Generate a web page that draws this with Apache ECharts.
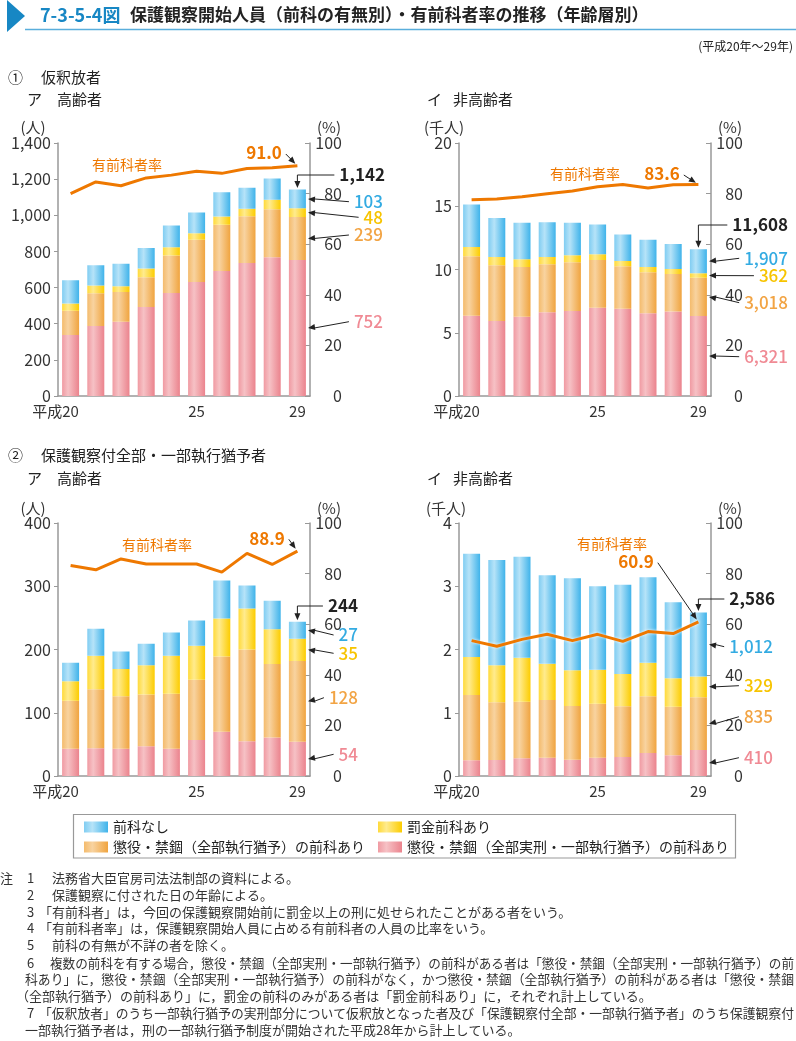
<!DOCTYPE html>
<html><head><meta charset="utf-8">
<script src="https://cdn.jsdelivr.net/npm/echarts@6.0.0/dist/echarts.min.js"></script>
<style>html,body{margin:0;padding:0;background:#fff}#c{width:796px;height:1041px}</style>
</head><body><div id="c"></div>
<script>
// ---- data ----
const years = ['平成20','21','22','23','24','25','26','27','28','29'];
const xTickLabels = ['平成20','','','','','25','','','','29'];
const seriesNames = ['懲役・禁錮（全部実刑・一部執行猶予）の前科あり','懲役・禁錮（全部執行猶予）の前科あり','罰金前科あり','前科なし'];
const rateName = '有前科者率';

// ① 仮釈放者 ア 高齢者 (人)
const p1Prison = [338,387,411,492,570,631,692,736,768,752];
const p1Susp   = [134,181,164,165,207,233,255,259,266,239];
const p1Fine   = [40,44,33,49,46,37,46,41,52,48];
const p1None   = [128,111,124,113,120,114,135,116,118,103];
const p1Rate   = [80.0,84.6,83.1,86.2,87.3,88.8,88.0,89.9,90.2,91.0];
const p1Ticks  = [0,200,400,600,800,1000,1200,1400];

// ① 仮釈放者 イ 非高齢者 (人; axis in 千人)
const p2Prison = [6340,5920,6260,6630,6710,6970,6900,6550,6680,6321];
const p2Susp   = [4700,4410,3940,3780,3860,3780,3350,3230,2960,3018];
const p2Fine   = [740,660,610,580,550,450,420,420,400,362];
const p2None   = [3360,3090,2880,2750,2570,2350,2090,2160,1980,1907];
const p2Rate   = [77.6,77.9,78.8,79.9,81.0,82.7,83.6,82.2,83.5,83.6];
const p2Ticks  = [0,5,10,15,20];

// ② 保護観察付全部・一部執行猶予者 ア 高齢者 (人)
const p3Prison = [43,44,43,47,43,57,70,55,61,54];
const p3Susp   = [76,93,83,82,87,95,119,145,116,128];
const p3Fine   = [31,53,43,46,60,54,60,65,55,35];
const p3None   = [29,43,28,34,37,40,60,36,45,27];
const p3Rate   = [83.2,81.5,85.8,83.8,83.8,83.8,80.6,88.0,83.6,88.9];
const p3Ticks  = [0,100,200,300,400];

// ② イ 非高齢者 (人; axis in 千人)
const p4Prison = [248,253,279,290,258,290,300,364,327,410];
const p4Susp   = [1033,912,896,912,849,854,801,896,769,835];
const p4Fine   = [600,585,696,574,564,537,512,532,448,329];
const p4None   = [1634,1665,1597,1397,1454,1318,1412,1349,1202,1012];
const p4Rate   = [53.5,51.3,54.0,56.0,53.5,56.0,53.2,57.1,56.3,60.9];
const p4Ticks  = [0,1,2,3,4];

const rateTicks = [0,20,40,60,80,100];

// ---- layout / style ----
const FONT = '"Noto Sans CJK JP","Noto Sans",sans-serif';
const GW = 252, GH = 253;
const panels = [
  {prison:p1Prison, susp:p1Susp, fine:p1Fine, none:p1None, rate:p1Rate, ticks:p1Ticks, div:1, left:58, top:143, unit:'(人)', unitX:33, unitY:127,
   rateText:[127,165], rateLbl:[264,153], totalLbl:[385,175], segX:383, segY:[201.7,217.3,235,321.7]},
  {prison:p2Prison, susp:p2Susp, fine:p2Fine, none:p2None, rate:p2Rate, ticks:p2Ticks, div:1000, left:459, top:143, unit:'(千人)', unitX:444, unitY:127,
   rateText:[585,174], rateLbl:[662,174], totalLbl:[788,225], segX:788, segY:[258.3,275.7,302.7,356.7]},
  {prison:p3Prison, susp:p3Susp, fine:p3Fine, none:p3None, rate:p3Rate, ticks:p3Ticks, div:1, left:58, top:523, unit:'(人)', unitX:33, unitY:508,
   rateText:[157,545], rateLbl:[267,538.3], totalLbl:[358,606], segX:358, segY:[635,653.3,697.7,754.3]},
  {prison:p4Prison, susp:p4Susp, fine:p4Fine, none:p4None, rate:p4Rate, ticks:p4Ticks, div:1000, left:459, top:523, unit:'(千人)', unitX:446, unitY:508,
   rateText:[612,543.3], rateLbl:[636,561.7], totalLbl:[775,599], segX:773, segY:[646.7,685.7,716.7,757.7]}
];

function grad(c0,c1,c2){
  return new echarts.graphic.LinearGradient(0,0,1,0,[{offset:0,color:c0},{offset:0.35,color:c1},{offset:1,color:c2}]);
}
const barFills = [
  grad('#f09aa2','#f6c1c5','#eb838d'),
  grad('#f4bb6c','#f8d3a0','#f0a43f'),
  grad('#ffda3a','#ffeb8e','#fccc00'),
  grad('#80cdf2','#b6e3f8','#3fb3ea')
];
const segLabelColors = ['#f08a94','#f2a444','#f7c400','#33abe2']; // pink, orange, yellow, blue
const AX = '#999';
function fmt(n){ return String(n).replace(/\B(?=(\d{3})+(?!\d))/g, ','); }

const grid=[], xAxis=[], yAxis=[], series=[];
panels.forEach((p,i)=>{
  grid.push({left:p.left, top:p.top, width:GW, height:GH});
  xAxis.push({
    gridIndex:i, type:'category', data:years,
    axisLine:{lineStyle:{color:AX,width:1.5}}, axisTick:{show:false},
    axisLabel:{interval:0, margin:8, fontSize:15, color:'#333', fontFamily:FONT,
      formatter:(v,idx)=>{ const t = xTickLabels[idx]; if(!t) return ''; if(t.startsWith('平成')) return '{h|平成}'+t.slice(2)+'{s|}'; return t; },
      rich:{h:{fontSize:15,color:'#333',fontFamily:FONT}, s:{width:30}}}
  });
  const tk = p.ticks;
  yAxis.push({
    gridIndex:i, type:'value', position:'left', min:0, max:tk[tk.length-1]*p.div, interval:(tk[1]-tk[0])*p.div,
    axisLine:{show:true,lineStyle:{color:AX,width:1.5}}, axisTick:{show:true,length:4,lineStyle:{color:AX}},
    splitLine:{show:false},
    axisLabel:{margin:7, fontSize:16, color:'#333', fontFamily:FONT, formatter:v=>fmt(v/p.div)}
  });
  yAxis.push({
    gridIndex:i, type:'value', position:'right', min:0, max:rateTicks[rateTicks.length-1], interval:rateTicks[1]-rateTicks[0],
    axisLine:{show:true,lineStyle:{color:AX,width:1.5}}, axisTick:{show:true,inside:true,length:5,lineStyle:{color:AX}},
    splitLine:{show:false},
    axisLabel:{margin:32, align:'right', fontSize:16, color:'#333', fontFamily:FONT}
  });
  const datas = [p.prison,p.susp,p.fine,p.none];
  datas.forEach((d,k)=>{
    series.push({type:'bar', name:seriesNames[k], xAxisIndex:i, yAxisIndex:2*i, stack:'s'+i, barWidth:17,
      data:d, itemStyle:{color:barFills[k]}, emphasis:{disabled:true}});
  });
  series.push({type:'line', name:rateName, xAxisIndex:i, yAxisIndex:2*i+1, data:p.rate, symbol:'none', z:5,
    lineStyle:{color:'#ee7800', width:3, shadowColor:'rgba(255,255,255,0.95)', shadowBlur:3}, emphasis:{disabled:true}});
});

const legendCommon = {orient:'vertical', itemWidth:24, itemHeight:11, itemGap:4, icon:'rect', selectedMode:false, padding:0,
  textStyle:{fontSize:14, color:'#222', fontFamily:FONT, lineHeight:16}};
const option = {
  animation:false, backgroundColor:'#fff',
  grid, xAxis, yAxis, series,
  legend:[
    Object.assign({left:84, top:819, data:['前科なし','懲役・禁錮（全部執行猶予）の前科あり']}, legendCommon),
    Object.assign({left:378, top:819, data:['罰金前科あり','懲役・禁錮（全部実刑・一部執行猶予）の前科あり']}, legendCommon)
  ]
};
const chart = echarts.init(document.getElementById('c'));
chart.setOption(option);

// ---- annotations ----
const cv = document.createElement('canvas').getContext('2d');
function tw(text, size, weight){ cv.font = (weight||'normal')+' '+size+'px '+FONT; return cv.measureText(text).width; }
function txt(x,y,text,size,color,opt){
  opt = opt||{};
  const el = {type:'text', x:x, y:y, silent:true, z:100, style:{text:text, fill:color, font:(opt.weight||'normal')+' '+size+'px '+FONT,
    textAlign:opt.align||'left', align:opt.align||'left', textVerticalAlign:'middle', verticalAlign:'middle'}};
  if (opt.scaleX) el.scaleX = opt.scaleX;
  return el;
}
function head(x1,y1,x2,y2){
  const dx=x2-x1, dy=y2-y1, L=Math.hypot(dx,dy), ux=dx/L, uy=dy/L, len=7, w=3;
  const bx=x2-ux*len, by=y2-uy*len;
  return {type:'polygon', silent:true, z:100, shape:{points:[[x2,y2],[bx-uy*w,by+ux*w],[bx+uy*w,by-ux*w]]}, style:{fill:'#222'}};
}
function seg(x1,y1,x2,y2){
  return {type:'line', silent:true, z:100, shape:{x1,y1,x2,y2}, style:{stroke:'#222', lineWidth:1}};
}
const g = [];
// title
g.push({type:'polygon', silent:true, shape:{points:[[7,0],[25,16],[7,32]]}, style:{fill:'#1787c4'}});
g.push(txt(40,15,'7-3-5-4図',18,'#1787c4',{weight:'bold'}));
g.push(txt(130,15,'保護観察開始人員（前科の有無別）・有前科者率の推移（年齢層別）',17,'#222',{weight:'bold'}));
g.push({type:'line', silent:true, shape:{x1:25,y1:29.5,x2:796,y2:29.5}, style:{stroke:'#5aaedc', lineWidth:1.5}});
g.push(txt(793,46,'(平成20年～29年)',12,'#222',{align:'right'}));
// section headings
g.push(txt(8,77,'①',15,'#222')); g.push(txt(41,77,'仮釈放者',15,'#222'));
g.push(txt(27,99,'ア',15,'#222')); g.push(txt(57,99,'高齢者',15,'#222'));
g.push(txt(427,99,'イ',15,'#222')); g.push(txt(453,99,'非高齢者',15,'#222'));
g.push(txt(8,455,'②',15,'#222')); g.push(txt(41,455,'保護観察付全部・一部執行猶予者',15,'#222'));
g.push(txt(27,478,'ア',15,'#222')); g.push(txt(57,478,'高齢者',15,'#222'));
g.push(txt(427,478,'イ',15,'#222')); g.push(txt(453,478,'非高齢者',15,'#222'));

panels.forEach((p,i)=>{
  const right = p.left + GW;
  g.push(txt(p.unitX,p.unitY,p.unit,15,'#333',{align:'center'}));
  g.push(txt(right+19,p.unitY,'(%)',15,'#333',{align:'center'}));
  g.push(txt(p.rateText[0],p.rateText[1],rateName,14,'#ee7800',{align:'center'}));
  // rate label & arrow
  const last = p.rate.length-1;
  const rl = p.rate[last].toFixed(1);
  g.push(txt(p.rateLbl[0],p.rateLbl[1],rl,17,'#ee7800',{align:'center',weight:'bold'}));
  const rp = chart.convertToPixel({xAxisIndex:i, yAxisIndex:2*i+1},[last,p.rate[last]]);
  const sx = p.rateLbl[0]+tw(rl,17,'bold')/2+4, sy = p.rateLbl[1]+1;
  const dx = rp[0]-sx, dy = rp[1]-sy, L = Math.hypot(dx,dy);
  const ex = rp[0]-dx/L*3, ey = rp[1]-dy/L*3;
  g.push(seg(sx,sy,ex-dx/L*5,ey-dy/L*5)); g.push(head(sx,sy,ex,ey));
  // total
  const vals = [p.prison[last],p.susp[last],p.fine[last],p.none[last]];
  const total = vals.reduce((a,b)=>a+b,0);
  const tt = fmt(total);
  g.push(txt(p.totalLbl[0],p.totalLbl[1],tt,17,'#222',{align:'right',weight:'bold'}));
  const tp = chart.convertToPixel({xAxisIndex:i, yAxisIndex:2*i},[last,total]);
  const tsx = p.totalLbl[0]-tw(tt,17,'bold')-5;
  g.push({type:'polyline', silent:true, z:100, shape:{points:[[tsx,p.totalLbl[1]],[tp[0],p.totalLbl[1]],[tp[0],tp[1]-7]]}, style:{stroke:'#222',lineWidth:1,fill:null}});
  g.push(head(tp[0],p.totalLbl[1],tp[0],tp[1]-1.5));
  // segment labels (blue, yellow, orange, pink order from top)
  let cum = 0; const mids = [];
  vals.forEach(v=>{ mids.push(cum+v/2); cum+=v; });
  [3,2,1,0].forEach((k,j)=>{
    const t = fmt(vals[k]);
    const ly = p.segY[j];
    g.push(txt(p.segX,ly,t,17,segLabelColors[k],{align:'right',weight:'500'}));
    const my = chart.convertToPixel({xAxisIndex:i, yAxisIndex:2*i},[last,mids[k]])[1];
    const lx = p.segX - tw(t,17,'500') - 5;
    const ex2 = right-2;
    g.push(seg(lx,ly,ex2+6,my)); g.push(head(lx,ly,ex2,my));
  });
});

// legend box
g.push({type:'rect', silent:true, shape:{x:73.5,y:814.5,width:662,height:43.5}, style:{fill:null, stroke:'#999', lineWidth:1.2}});

// notes (entries with a 4th element are fitted to that right edge)
const NC = '#333', NS = 13;
const notes = [
  [0,878.3,'注'],[27,878.3,'1'],[52,878.3,'法務省大臣官房司法法制部の資料による。'],
  [27,895,'2'],[52,895,'保護観察に付された日の年齢による。'],
  [27,911.7,'3'],[39,911.7,'「有前科者」は，今回の保護観察開始前に罰金以上の刑に処せられたことがある者をいう。'],
  [27,928.3,'4'],[39,928.3,'「有前科者率」は，保護観察開始人員に占める有前科者の人員の比率をいう。'],
  [27,945,'5'],[52,945,'前科の有無が不詳の者を除く。'],
  [27,962.7,'6'],[50,962.7,'複数の前科を有する場合，懲役・禁錮（全部実刑・一部執行猶予）の前科がある者は「懲役・禁錮（全部実刑・一部執行猶予）の前',794],
  [25,979.3,'科あり」に，懲役・禁錮（全部実刑・一部執行猶予）の前科がなく，かつ懲役・禁錮（全部執行猶予）の前科がある者は「懲役・禁錮',794],
  [16,996,'（全部執行猶予）の前科あり」に，罰金の前科のみがある者は「罰金前科あり」に，それぞれ計上している。'],
  [27,1013.3,'7'],[39,1013.3,'「仮釈放者」のうち一部執行猶予の実刑部分について仮釈放となった者及び「保護観察付全部・一部執行猶予者」のうち保護観察付',794],
  [25,1030,'一部執行猶予者は，刑の一部執行猶予制度が開始された平成28年から計上している。']
];
notes.forEach(n=>{
  const opt = {};
  if (n[3]) { const w = tw(n[2],NS,'normal'); if (w > n[3]-n[0]) opt.scaleX = (n[3]-n[0])/w; }
  g.push(txt(n[0],n[1],n[2],NS,NC,opt));
});

chart.setOption({graphic:g});
</script></body></html>
